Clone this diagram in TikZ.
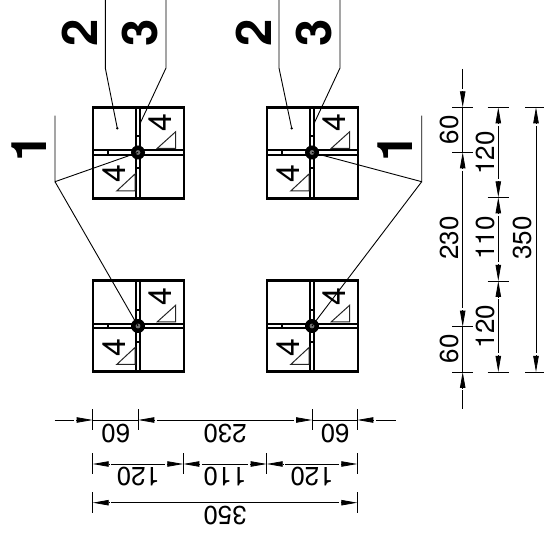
\documentclass[tikz,border=0pt]{standalone}
\usepackage{fontspec}
\setmainfont{TeX Gyre Heros}
\usetikzlibrary{arrows.meta,calc}
\tikzset{
  x=1pt,y=-1pt,
  frameline/.style={line width=2.6pt,line join=miter,draw=black},
  slotline/.style={line width=2pt,draw=black},
  thinline/.style={line width=1pt,draw=black!85},
  leader/.style={line width=0.9pt,draw=black},
  dimline/.style={line width=0.9pt,draw=black},
  dimtip/.style={line width=0.8pt,draw=black,-{Triangle[length=16pt,width=5.4pt]}},
  dimtext/.style={inner sep=0pt,font=\fontsize{26}{28}\selectfont},
  panelnum/.style={inner sep=0pt,rotate=90,font=\fontsize{32}{34}\selectfont},
  bignum/.style={inner sep=0pt,rotate=90,font=\bfseries\fontsize{49}{52}\selectfont},
}
\newcommand{\panel}[3]{%
  \begin{scope}[shift={(#2,#3)}]
    \coordinate (#1) at (0,0);
    \draw[frameline] (-45.2,-45.2) rectangle (45.8,45.8);
    \draw[slotline] (-2.1,-45.2) -- (-2.1,45.8) (2.1,-45.2) -- (2.1,45.8);
    \draw[slotline] (-45.2,-2.1) -- (45.8,-2.1) (-45.2,2.1) -- (45.8,2.1);
    \draw[line width=2pt] (-30,-2.1) -- (-30,2.1) (-2.1,-16) -- (2.1,-16) (-2.1,16) -- (2.1,16);
    \draw[thinline] (19.3,-4.2) -- (37.7,-4.2) -- (37.7,-20.8) -- cycle;
    \draw[thinline] (-21.3,38.5) -- (-3,38.5) -- (-3,21.5) -- cycle;
    \node[panelnum] (#1a) at (22.3,-29.5) {4};
    \node[panelnum] (#1b) at (-24,21.6) {4};
    \fill[black] (0,0) circle (7);
    \fill[black!55] (0,0) circle (2.4);
  \end{scope}}
\newcommand{\dtip}[3]{\draw[dimtip] ($(#1)+(#2,#3)$) -- (#1);}
\begin{document}
\begin{tikzpicture}
\useasboundingbox (0,0) rectangle (544,537);
\panel{pa}{138}{152.5}
\panel{pb}{312}{152.5}
\panel{pc}{138}{326}
\panel{pd}{312}{326}

% leaders
\coordinate (a2t) at (105.3,0); \coordinate (a2k) at (105.3,68); \coordinate (a2e) at (117.3,128.3);
\coordinate (a3t) at (166,0); \coordinate (a3k) at (166,68); \coordinate (a3e) at (140.3,123);
\coordinate (a1t) at (55,115.7); \coordinate (a1k) at (55,181.7);
\coordinate (b2t) at (279,0); \coordinate (b2k) at (279,68); \coordinate (b2e) at (291.7,128.3);
\coordinate (b3t) at (340,0); \coordinate (b3k) at (340,68); \coordinate (b3e) at (314.3,123);
\coordinate (b1t) at (421.7,115.7); \coordinate (b1k) at (421.7,181.7);
\draw[leader] (a2t) -- (a2k) -- (a2e);
\draw[leader] (a3t) -- (a3k) -- (a3e);
\draw[leader] (a1t) -- (a1k) -- (pa);
\draw[leader] (a1k) -- (pc);
\draw[leader] (b2t) -- (b2k) -- (b2e);
\draw[leader] (b3t) -- (b3k) -- (b3e);
\draw[leader] (b1t) -- (b1k) -- (pb);
\draw[leader] (b1k) -- (pd);
\fill (a2e) circle (1.3);
\fill (b2e) circle (1.3);

\node[bignum] (n2a) at (79.5,32.7) {2};
\node[bignum] (n3a) at (140.3,33) {3};
\node[bignum] (n1a) at (29,147.5) {1};
\node[bignum] (n2b) at (253.3,32.7) {2};
\node[bignum] (n3b) at (314,33) {3};
\node[bignum] (n1b) at (395,148) {1};

% bottom dimensions, row 1
\coordinate (r1a) at (92.7,420); \coordinate (r1b) at (138.3,420); \coordinate (r1c) at (312,420); \coordinate (r1d) at (357.3,420);
\foreach \c in {r1a,r1b,r1c,r1d} \draw[dimline] ($(\c)+(0,-10.7)$) -- ($(\c)+(0,10)$);
\draw[dimline] ($(r1a)+(-38,0)$) -- ($(r1a)+(-18.5,0)$);
\dtip{r1a}{-16.5}{0}
\draw[dimline] (r1a) -- (r1b);
\dtip{r1b}{16.5}{0}
\draw[dimline] ($(r1b)+(18.5,0)$) -- ($(r1c)+(-18.5,0)$);
\dtip{r1c}{-16.5}{0}
\draw[dimline] (r1c) -- (r1d);
\dtip{r1d}{16.5}{0}
\draw[dimline] ($(r1d)+(18.5,0)$) -- ($(r1d)+(38.5,0)$);
\node[dimtext,rotate=180] (t1) at (115.7,434) {60};
\node[dimtext,rotate=180] (t2) at (225,434) {230};
\node[dimtext,rotate=180] (t3) at (335,434) {60};

% row 2
\coordinate (r2a) at (92.7,464); \coordinate (r2b) at (183.3,464); \coordinate (r2c) at (266.7,464); \coordinate (r2d) at (357.3,464);
\foreach \c in {r2a,r2b,r2c,r2d} \draw[dimline] ($(\c)+(0,-10.7)$) -- ($(\c)+(0,10.3)$);
\dtip{r2a}{16.5}{0} \dtip{r2b}{-16.5}{0} \draw[dimline] ($(r2a)+(18.5,0)$) -- ($(r2b)+(-18.5,0)$);
\dtip{r2b}{16.5}{0} \dtip{r2c}{-16.5}{0} \draw[dimline] ($(r2b)+(18.5,0)$) -- ($(r2c)+(-18.5,0)$);
\dtip{r2c}{16.5}{0} \dtip{r2d}{-16.5}{0} \draw[dimline] ($(r2c)+(18.5,0)$) -- ($(r2d)+(-18.5,0)$);
\node[dimtext,rotate=180] (t4) at (138.3,476.7) {120};
\node[dimtext,rotate=180] (t5) at (225,476.7) {110};
\node[dimtext,rotate=180] (t6) at (312,476.7) {120};

% row 3
\coordinate (r3a) at (92.7,502.7); \coordinate (r3b) at (357.3,502.7);
\foreach \c in {r3a,r3b} \draw[dimline] ($(\c)+(0,-10.3)$) -- ($(\c)+(0,10)$);
\dtip{r3a}{16.5}{0} \dtip{r3b}{-16.5}{0} \draw[dimline] ($(r3a)+(18.5,0)$) -- ($(r3b)+(-18.5,0)$);
\node[dimtext,rotate=180] (t7) at (225,515.7) {350};

% right dimensions, column 1
\coordinate (c1a) at (462.7,107.3); \coordinate (c1b) at (462.7,152.3); \coordinate (c1c) at (462.7,326.7); \coordinate (c1d) at (462.7,372);
\foreach \c in {c1a,c1b,c1c,c1d} \draw[dimline] ($(\c)+(-10.4,0)$) -- ($(\c)+(10,0)$);
\draw[dimline] ($(c1a)+(0,-38.5)$) -- ($(c1a)+(0,-18.5)$);
\dtip{c1a}{0}{-16.5}
\draw[dimline] (c1a) -- (c1b);
\dtip{c1b}{0}{16.5}
\draw[dimline] ($(c1b)+(0,18.5)$) -- ($(c1c)+(0,-18.5)$);
\dtip{c1c}{0}{-16.5}
\draw[dimline] (c1c) -- (c1d);
\dtip{c1d}{0}{16.5}
\draw[dimline] ($(c1d)+(0,18.5)$) -- ($(c1d)+(0,37)$);
\node[dimtext,rotate=90] (t8) at (449.3,130) {60};
\node[dimtext,rotate=90] (t9) at (449.3,238) {230};
\node[dimtext,rotate=90] (t10) at (449.3,349) {60};

% column 2
\coordinate (c2a) at (498.3,107.3); \coordinate (c2b) at (498.3,197.3); \coordinate (c2c) at (498.3,281); \coordinate (c2d) at (498.3,372);
\foreach \c in {c2a,c2b,c2c,c2d} \draw[dimline] ($(\c)+(-10.6,0)$) -- ($(\c)+(10.7,0)$);
\dtip{c2a}{0}{16.5} \dtip{c2b}{0}{-16.5} \draw[dimline] ($(c2a)+(0,18.5)$) -- ($(c2b)+(0,-18.5)$);
\dtip{c2b}{0}{16.5} \dtip{c2c}{0}{-16.5} \draw[dimline] ($(c2b)+(0,18.5)$) -- ($(c2c)+(0,-18.5)$);
\dtip{c2c}{0}{16.5} \dtip{c2d}{0}{-16.5} \draw[dimline] ($(c2c)+(0,18.5)$) -- ($(c2d)+(0,-18.5)$);
\node[dimtext,rotate=90] (t11) at (485,153) {120};
\node[dimtext,rotate=90] (t12) at (485,238) {110};
\node[dimtext,rotate=90] (t13) at (485.7,326.7) {120};

% column 3
\coordinate (c3a) at (536,107.3); \coordinate (c3b) at (536,372);
\foreach \c in {c3a,c3b} \draw[dimline] ($(\c)+(-10.7,0)$) -- ($(\c)+(8,0)$);
\dtip{c3a}{0}{16.5} \dtip{c3b}{0}{-16.5} \draw[dimline] ($(c3a)+(0,18.5)$) -- ($(c3b)+(0,-18.5)$);
\node[dimtext,rotate=90] (t14) at (522,238) {350};
\end{tikzpicture}
\end{document}
